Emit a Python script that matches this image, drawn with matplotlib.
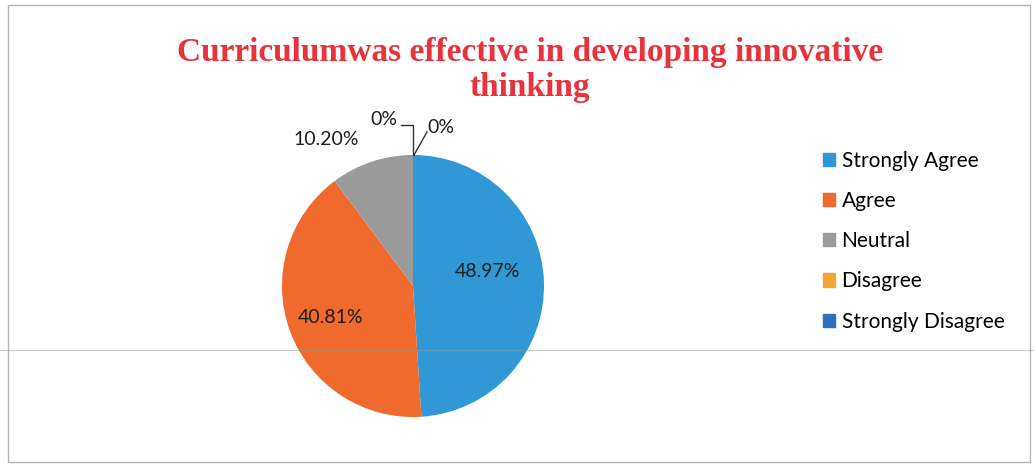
import matplotlib.pyplot as plt
from matplotlib.patches import Rectangle
import numpy as np

categories = ['Strongly Agree', 'Agree', 'Neutral', 'Disagree', 'Strongly Disagree']
values = [48.97, 40.81, 10.20, 0, 0]
pct_labels = ['48.97%', '40.81%', '10.20%', '0%', '0%']
colors = ['#2f98d5', '#ef6a2c', '#9b9b9b', '#f1a532', '#2b6fbd']

TITLE = 'Curriculumwas effective in developing innovative\nthinking'


def main():
    fig = plt.figure(figsize=(10.34, 4.70), dpi=100)
    W, H = 1034, 470

    # outer frame of the chart
    fig.patches.append(Rectangle((8 / W, 8 / H), 1022 / W, 457 / H,
                                 transform=fig.transFigure, fill=False,
                                 edgecolor='#b5b5b5', linewidth=1.0))

    fig.text(530 / W, 1 - 70 / H, TITLE, ha='center', va='center',
             fontsize=24, fontweight='bold', color='#e8323c',
             family='Liberation Serif', linespacing=1.2)

    # pie: center (413, 286) px, radius 131 px
    cx, cy, r = 413, 286, 131
    span = 1.5 * r
    ax = fig.add_axes([(cx - span) / W, (H - cy - span) / H, 2 * span / W, 2 * span / H])
    wedges, _ = ax.pie(values, colors=colors, startangle=90, counterclock=False,
                       radius=1.0, wedgeprops=dict(linewidth=0))
    ax.set_xlim(-1.5, 1.5)
    ax.set_ylim(-1.5, 1.5)
    ax.axis('off')

    lab_font = dict(family='Lato', fontsize=14, color='#1e1e1e', ha='center', va='center')
    ax.text(0.565, 0.11, pct_labels[0], **lab_font)
    ax.text(-0.626, -0.244, pct_labels[1], **lab_font)
    ax.text(-0.66, 1.12, pct_labels[2], **lab_font)

    # zero slices with leader lines
    ax.text(-0.225, 1.27, pct_labels[3], **lab_font)
    ax.plot([-0.09, 0.0, 0.0], [1.229, 1.229, 1.0], color='#333333', lw=1)
    ax.text(0.21, 1.21, pct_labels[4], **lab_font)
    ax.plot([0.107, 0.008], [1.176, 1.0], color='#333333', lw=1)

    handles = [Rectangle((0, 0), 1, 1, color=c) for c in colors]
    fig.legend(handles, categories, loc='upper left',
               bbox_to_anchor=(804 / W, 1 - 132 / H), frameon=False,
               prop=dict(family='Lato', size=15),
               handlelength=0.6, handleheight=0.6, handletextpad=0.3,
               labelspacing=0.97)

    # faint fold line from the scan
    fig.add_artist(plt.Line2D([0, 1], [1 - 350 / H, 1 - 350 / H],
                              transform=fig.transFigure, color='#999999',
                              lw=0.8, alpha=0.5))

    fig.savefig('out.png', dpi=100)


if __name__ == '__main__':
    main()
